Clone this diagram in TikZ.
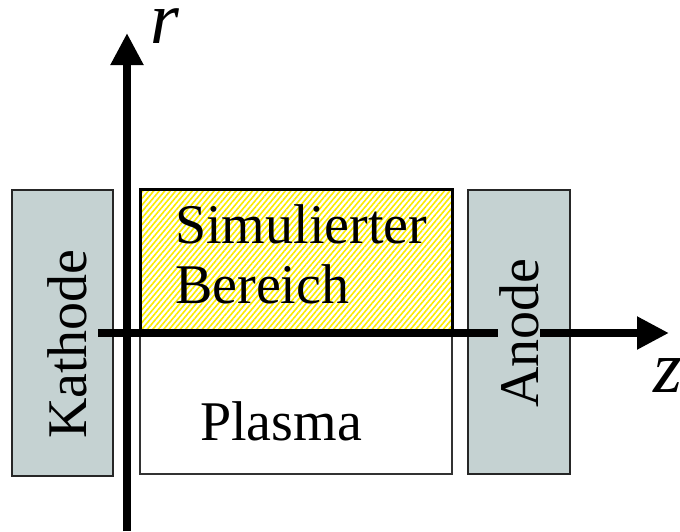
\documentclass[tikz,border=0pt]{standalone}
\usepackage{fontspec}
\setmainfont{Liberation Serif}
\usetikzlibrary{arrows.meta,patterns.meta}
\definecolor{electrode}{RGB}{197,210,210}
\definecolor{hatchyellow}{RGB}{250,235,0}
\tikzset{
  electrodebox/.style={draw=black!85,line width=1.2pt,fill=electrode,inner sep=0pt},
  regionbox/.style={draw=black!80,line width=1.5pt,fill=white,inner sep=0pt},
  simbox/.style={draw=black,line width=3pt,inner sep=0pt,
    pattern={Lines[angle=50,distance=4.2pt,line width=1.6pt]},pattern color=hatchyellow},
  axisline/.style={line width=8pt,-{Triangle[width=31pt,length=32pt]}},
  bigtext/.style={font=\fontsize{56}{60}\selectfont,inner sep=0pt},
  axislabel/.style={font=\fontsize{74}{80}\selectfont\itshape,inner sep=0pt},
}
\begin{document}
\begin{tikzpicture}[x=1pt,y=-1pt]
\useasboundingbox[fill=white] (0,0) rectangle (680,531);
% electrodes and regions
\node[electrodebox,minimum width=101pt,minimum height=286pt] (kathode) at (62.5,333) {};
\node[electrodebox,minimum width=102pt,minimum height=284pt] (anode) at (519,332) {};
\node[regionbox,minimum width=312pt,minimum height=141pt] (plasma) at (296,403.5) {};
\node[simbox,minimum width=312pt,minimum height=144pt] (sim) at (296,261) {};
% axes
\coordinate (rfoot) at (127,531);
\coordinate (rtip) at (127,33);
\coordinate (zfoot) at (98,333);
\coordinate (ztip) at (669,333);
\draw[axisline] (rfoot) -- (rtip);
\draw[axisline] (zfoot) -- (ztip);
% labels
\node[bigtext,rotate=90] (kathodetext) at (67,344) {Kathode};
\node[bigtext,rotate=90,fill=electrode,inner ysep=1pt] (anodetext) at (519,333) {Anode};
\node[bigtext,anchor=base west] (simtext1) at (175,243) {Simulierter};
\node[bigtext,anchor=base west] (simtext2) at (175,303) {Bereich};
\node[bigtext,anchor=base west] (plasmatext) at (200,440) {Plasma};
\node[axislabel,anchor=base west] (rlabel) at (150,43) {r};
\node[axislabel,anchor=base west] (zlabel) at (653,392) {z};
\end{tikzpicture}
\end{document}
